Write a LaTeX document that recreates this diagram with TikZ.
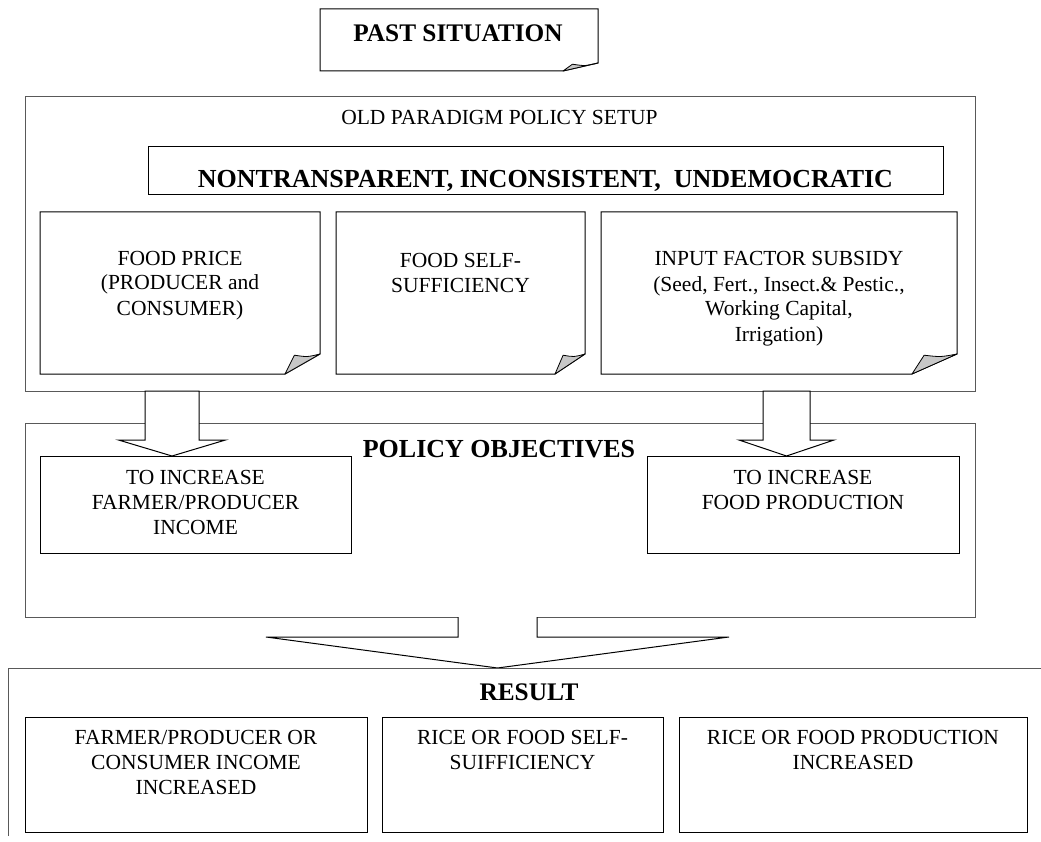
\documentclass[tikz,border=0pt]{standalone}
\usepackage{fontspec}
\setmainfont{Liberation Serif}

% Box with a folded lower-right corner: #1 node name, #2 fold width, #3 fold height
\newcommand\foldnote[3]{%
  \path (#1.south east) ++(0,-#3) coordinate (#1-r)
        (#1.south east) ++(-#2,0) coordinate (#1-b)
        (#1-r) ++({-0.73*#2},1.2) coordinate (#1-f);
  \draw[notebox] (#1.north west) -- (#1.north east) -- (#1-r) -- (#1-b)
        -- (#1.south west) -- cycle;
  \draw[flap] (#1-r) .. controls ($(#1-r)!0.5!(#1-f)+(0,2.5)$) .. (#1-f)
        -- (#1-b) -- cycle;
}

% Hollow downward block arrow: #1 axis coordinate, #2 top anchor, #3 tip anchor,
% #4 half shaft width, #5 half head width, #6 head length
\newcommand\blockarrow[6]{%
  \path (#1 |- #2) coordinate (#1-t) (#1 |- #3) coordinate (#1-p);
  \draw[arrowshape] ([xshift=-#4pt]#1-t) -- ([xshift=-#4pt,yshift=#6pt]#1-p)
     -- ([xshift=-#5pt,yshift=#6pt]#1-p) -- (#1-p)
     -- ([xshift=#5pt,yshift=#6pt]#1-p) -- ([xshift=#4pt,yshift=#6pt]#1-p)
     -- ([xshift=#4pt]#1-t) -- cycle;
}

\usetikzlibrary{calc}

\begin{document}
\begin{tikzpicture}[x=1pt,y=-1pt,
  frame/.style={draw=black!65, line width=1pt, fill=white, inner sep=0pt, outer sep=0pt, anchor=north west},
  plainbox/.style={draw=black, line width=1pt, fill=white, inner sep=0pt, outer sep=0pt, anchor=north west},
  slot/.style={inner sep=0pt, outer sep=0pt, anchor=north west},
  notebox/.style={draw=black, line width=1pt, fill=white},
  flap/.style={draw=black, line width=0.8pt, fill=black!22, line join=round},
  arrowshape/.style={draw=black, line width=1pt, fill=white},
  body/.style={font=\fontsize{21.5}{25}\selectfont, align=center, inner sep=0pt, anchor=base},
  head/.style={font=\bfseries\fontsize{25.3}{30}\selectfont, inner sep=0pt, anchor=base},
]
\useasboundingbox[fill=white] (0,0) rectangle (1041,842);

% ---- past situation label ----
\node[slot, minimum width=278, minimum height=62] (past) at (320,9) {};
\foldnote{past}{35}{8}
\node[head] (pasttxt) at (458,42) {PAST SITUATION};

% ---- old paradigm policy setup ----
\node[frame, minimum width=950, minimum height=294] (setup) at (25,97) {};
\node[body] (setuptxt) at (499.5,125) {OLD PARADIGM POLICY SETUP};
\node[plainbox, minimum width=795, minimum height=48] (nontr) at (148,147) {};
\node[head, font=\bfseries\fontsize{26}{30}\selectfont] (nontrtxt) at (545.5,188)
  {NONTRANSPARENT, INCONSISTENT,\ \ UNDEMOCRATIC};

\node[slot, minimum width=280, minimum height=162] (noteA) at (40,212) {};
\node[slot, minimum width=249, minimum height=162] (noteB) at (336,212) {};
\node[slot, minimum width=356, minimum height=162] (noteC) at (601,212) {};
\foldnote{noteA}{35}{20}
\foldnote{noteB}{30}{20}
\foldnote{noteC}{45}{20}
% multi-line texts: the base anchor sits on the last line
\node[body] (noteAtxt) at (180,315) {FOOD PRICE\\(PRODUCER and\\CONSUMER)};
\node[body] (noteBtxt) at (460.5,293) {FOOD SELF-\\SUFFICIENCY};
\node[body] (noteCtxt) at (779,341) {INPUT FACTOR SUBSIDY\\(Seed, Fert., Insect.\& Pestic.,\\Working Capital,\\Irrigation)};

% ---- policy objectives ----
\node[frame, minimum width=950, minimum height=194] (obj) at (25,423) {};
\node[head, font=\bfseries\fontsize{26}{30}\selectfont] (objtxt) at (499,457) {POLICY OBJECTIVES};

\coordinate (axA) at (172,0);
\coordinate (axB) at (786.5,0);
\node[slot, minimum width=311, minimum height=97] (incA) at (40,456) {};
\node[slot, minimum width=312, minimum height=97] (incB) at (647,456) {};
\blockarrow{axA}{setup.south}{incA.north}{27}{53.5}{16}
\blockarrow{axB}{setup.south}{incB.north}{23.5}{47.5}{16}
\draw[black, line width=1pt] (incA.north west) rectangle (incA.south east);
\draw[black, line width=1pt] (incB.north west) rectangle (incB.south east);
\node[body] (incAtxt) at (195.5,534) {TO INCREASE\\FARMER/PRODUCER\\INCOME};
\node[body] (incBtxt) at (803,509) {TO INCREASE\\FOOD PRODUCTION};

% ---- result ----
\coordinate (resTL) at (8,668);
\coordinate (resTR) at (1041,668);
\coordinate (resBL) at (8,836);
\coordinate (axC) at (497.5,0);
\path (axC |- obj.south) coordinate (axC-t) (axC |- resTL) coordinate (axC-p);
\fill[white] ([xshift=-39.5pt,yshift=1pt]axC-t) -- ([xshift=-39.5pt,yshift=31pt]axC-p)
  -- ([xshift=-231.5pt,yshift=31pt]axC-p) -- (axC-p)
  -- ([xshift=231.5pt,yshift=31pt]axC-p) -- ([xshift=39.5pt,yshift=31pt]axC-p)
  -- ([xshift=39.5pt,yshift=1pt]axC-t) -- cycle;
\draw[black, line width=1pt, line join=miter] ([xshift=-39.5pt]axC-t) -- ([xshift=-39.5pt,yshift=31pt]axC-p)
  -- ([xshift=-231.5pt,yshift=31pt]axC-p) -- (axC-p)
  -- ([xshift=231.5pt,yshift=31pt]axC-p) -- ([xshift=39.5pt,yshift=31pt]axC-p)
  -- ([xshift=39.5pt]axC-t);
\draw[draw=black!65, line width=1pt] (resBL) -- (resTL) -- (resTR);
\node[head] (restxt) at (529,700) {RESULT};

\node[plainbox, minimum width=342, minimum height=115] (resA) at (25,717) {};
\node[plainbox, minimum width=281, minimum height=115] (resB) at (382,717) {};
\node[plainbox, minimum width=348, minimum height=115] (resC) at (679,717) {};
\node[body] (resAtxt) at (196,794) {FARMER/PRODUCER OR\\CONSUMER INCOME\\INCREASED};
\node[body] (resBtxt) at (522.5,769) {RICE OR FOOD SELF-\\SUIFFICIENCY};
\node[body] (resCtxt) at (853,769) {RICE OR FOOD PRODUCTION\\INCREASED};
\end{tikzpicture}
\end{document}
